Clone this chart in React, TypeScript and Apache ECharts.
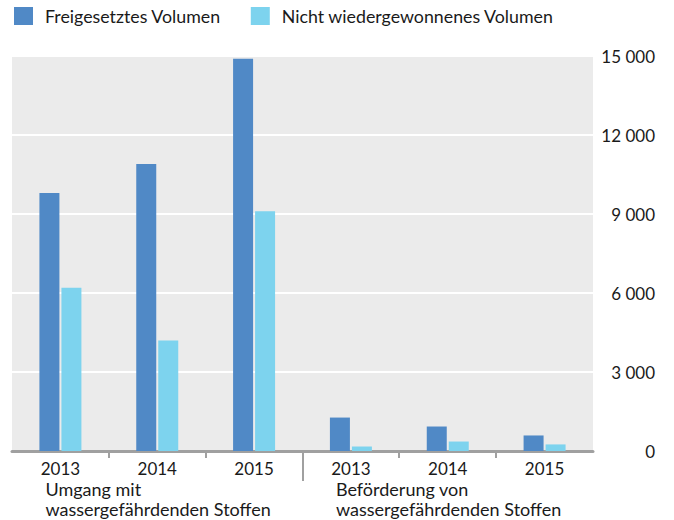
import React, { useEffect, useRef } from "react";
import * as echarts from "echarts";

const categories = ["2013", "2014", "2015", "2013", "2014", "2015"];
const groupLabels = ["Umgang mit\nwassergefährdenden Stoffen", "Beförderung von\nwassergefährdenden Stoffen"];
const seriesNames = ["Freigesetztes Volumen", "Nicht wiedergewonnenes Volumen"];
const released = [9800, 10900, 14900, 1270, 930, 590];
const notRecovered = [6200, 4200, 9100, 170, 360, 250];
const yTicks = [0, 3000, 6000, 9000, 12000, 15000];

const FONT = "Lato";
const TEXT = "#1a1a1a";
const AXIS = "#a0a0a0";

export default function App() {
  const ref = useRef<HTMLDivElement>(null);
  useEffect(() => {
    if (!ref.current) return;
    const chart = echarts.init(ref.current, undefined, { renderer: "svg" });
    chart.setOption({
      animation: false,
      textStyle: { fontFamily: FONT },
      legend: {
        left: 9,
        top: 2,
        itemWidth: 19,
        itemHeight: 18,
        itemGap: 30,
        icon: "rect",
        textStyle: { fontFamily: FONT, fontSize: 17.8, color: TEXT, padding: [0, 0, 0, 7] },
        data: seriesNames,
      },
      grid: {
        left: 12,
        right: 81,
        top: 56,
        bottom: 69,
        show: true,
        backgroundColor: "#ebebeb",
        borderWidth: 0,
      },
      xAxis: {
        type: "category",
        data: categories,
        axisLine: { lineStyle: { color: AXIS, width: 3 } },
        axisTick: { show: false },
        axisLabel: { fontFamily: FONT, fontSize: 17, color: TEXT, margin: 9 },
      },
      yAxis: {
        type: "value",
        position: "right",
        min: 0,
        max: 15000,
        interval: 3000,
        axisLine: { show: false },
        axisTick: { show: false },
        splitLine: { lineStyle: { color: "#ffffff", width: 2 } },
        axisLabel: {
          fontFamily: FONT,
          fontSize: 17,
          color: TEXT,
          align: "right",
          margin: 62,
          customValues: yTicks,
          formatter: (v: number) => String(v).replace(/\B(?=(\d{3})+(?!\d))/g, " "),
        },
      },
      series: [
        {
          name: seriesNames[0],
          type: "bar",
          data: released,
          barWidth: 20,
          barGap: "10%",
          itemStyle: { color: "#5089c6" },
        },
        {
          name: seriesNames[1],
          type: "bar",
          data: notRecovered,
          barWidth: 20,
          barGap: "10%",
          itemStyle: { color: "#7dd3ee" },
        },
      ],
    });

    const c0 = chart.convertToPixel({ xAxisIndex: 0 }, 0) as number;
    const c1 = chart.convertToPixel({ xAxisIndex: 0 }, 1) as number;
    const band = c1 - c0;
    const y0 = chart.convertToPixel({ yAxisIndex: 0 }, 0) as number;
    const elements: any[] = [];
    [1, 2, 4, 5].forEach((i) => {
      const x = Math.round(c0 + band * (i - 0.5));
      elements.push({
        type: "line",
        shape: { x1: x, y1: y0 + 1, x2: x, y2: y0 + 7 },
        style: { stroke: AXIS, lineWidth: 2 },
        silent: true,
      });
    });
    const sx = Math.round(c0 + band * 2.5);
    elements.push({
      type: "line",
      shape: { x1: sx, y1: y0 + 1, x2: sx, y2: y0 + 30 },
      style: { stroke: AXIS, lineWidth: 2 },
      silent: true,
    });
    groupLabels.forEach((t, g) => {
      elements.push({
        type: "text",
        x: c0 + band * 3 * g - 15,
        y: y0 + 28,
        style: {
          text: t,
          fontFamily: FONT,
          fontSize: 18,
          lineHeight: 20,
          fill: TEXT,
          textVerticalAlign: "top",
        },
        silent: true,
      });
    });
    chart.setOption({ graphic: { elements } });

    return () => chart.dispose();
  }, []);
  return (
    <div
      ref={ref}
      style={{ position: "absolute", left: 0, top: 0, width: 674, height: 520 }}
    />
  );
}
